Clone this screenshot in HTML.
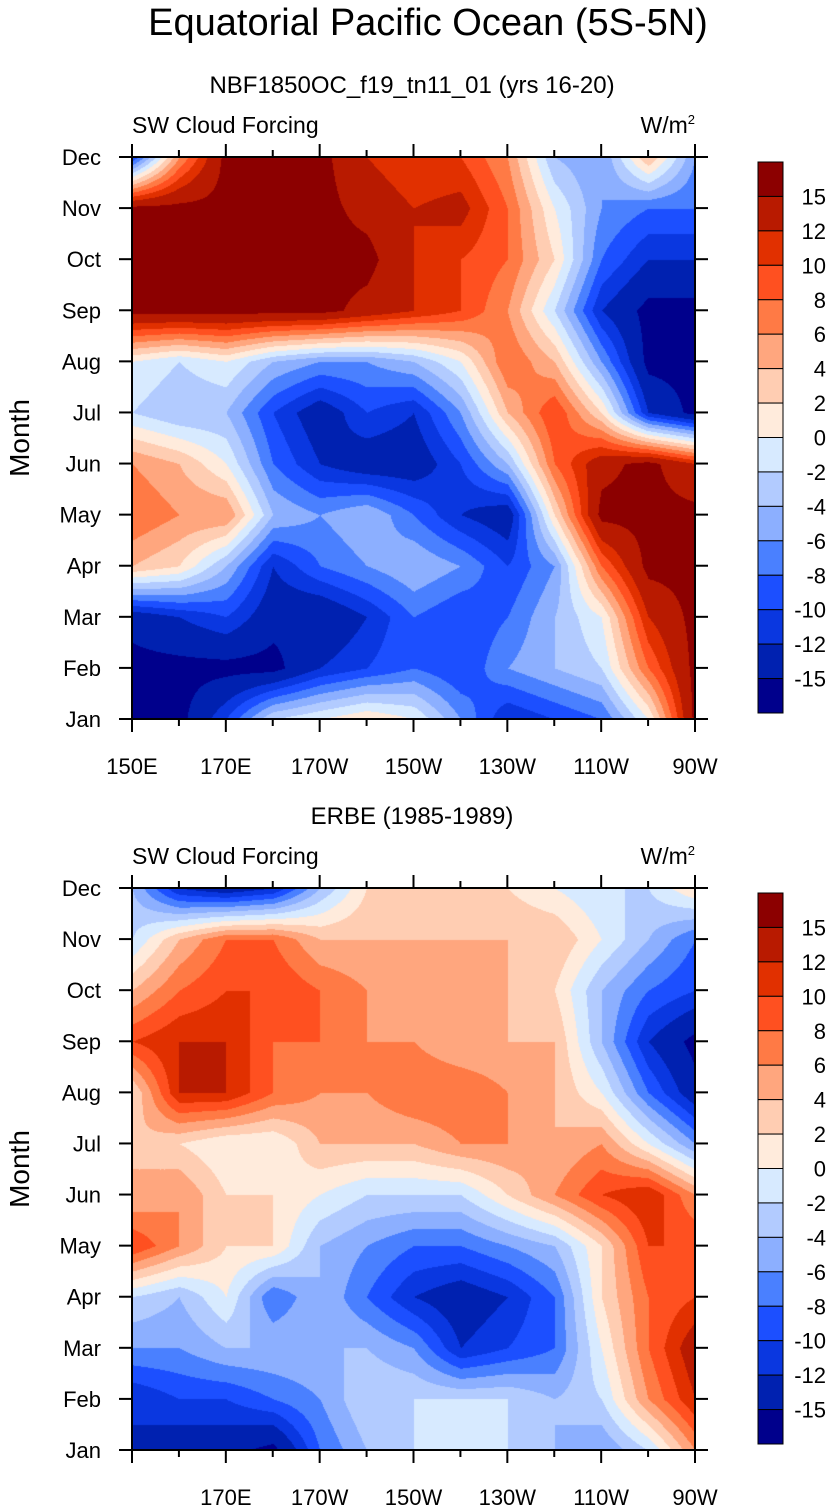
<!DOCTYPE html>
<html><head><meta charset="utf-8"><style>
body{margin:0;background:#fff;width:834px;height:1509px;position:relative;overflow:hidden;font-family:"Liberation Sans",sans-serif}
canvas{position:absolute}
svg{position:absolute;left:0;top:0}
</style></head><body>
<canvas id="c1" width="563" height="562" style="left:132px;top:157px"></canvas>
<canvas id="c2" width="563" height="562" style="left:132px;top:888px"></canvas>
<svg id="ov" width="834" height="1509"></svg>
<script>
const months=["Jan","Feb","Mar","Apr","May","Jun","Jul","Aug","Sep","Oct","Nov","Dec"];
const lons=[150,160,170,180,190,200,210,220,230,240,250,260,270];
const levels=[-15,-12,-10,-8,-6,-4,-2,0,2,4,6,8,10,12,15];
const levelLabels=["15","12","10","8","6","4","2","0","-2","-4","-6","-8","-10","-12","-15"];
const colors=["#00008c","#0021b0","#0a37e0","#1c4fff","#4a80ff","#8cafff","#b2cbff","#d7eaff","#ffebdc","#ffcdb2","#ffa67e","#ff7a45","#ff5020","#e13000","#b81a00","#8c0000"];
const xTicks1=["150E","170E","170W","150W","130W","110W","90W"];
const xTicks2=["","170E","170W","150W","130W","110W","90W"];
const model=[
[-16,-16,-10,-2,0,2,0,-6,-12,-10,-8,0,16],
[-16,-16,-16,-16,-12,-10,-8,-10,-6,-4,-2,8,16],
[-14,-12,-10,-14,-15,-12,-8,-10,-8,-4,0,12,16],
[4,2,-4,-12,-8,-6,-4,-6,-10,-6,8,16,16],
[8,6,6,-4,-6,-4,-8,-12,-14,2,16,16,16],
[6,4,0,-8,-12,-14,-14,-10,-4,8,14,16,12],
[-2,-4,-4,-10,-14,-10,-12,-6,4,10,2,-12,-16],
[0,-2,0,-4,-6,-6,-4,0,8,4,-6,-16,-16],
[16,16,16,16,16,14,12,10,6,-2,-12,-16,-16],
[16,16,16,16,16,16,12,10,8,2,-8,-12,-12],
[16,16,16,16,16,14,12,13,8,0,-6,-8,-8],
[-10,6,16,16,16,12,10,10,6,-4,-6,4,-6]];
const erbe=[
[-12,-14,-14,-16,-8,-4,-2,-2,-2,-4,-6,-2,6],
[-12,-10,-10,-8,-6,-2,-2,-2,-2,-4,-2,6,12],
[-6,-6,-4,-4,-4,-4,-6,-12,-10,-8,0,8,14],
[-2,-4,0,-8,-4,-8,-12,-14,-12,-8,2,8,10],
[10,6,2,2,-4,-6,-8,-8,-6,-4,2,10,10],
[4,6,2,2,0,-2,-2,-2,2,6,10,12,6],
[4,2,0,0,4,4,4,6,6,4,6,0,-6],
[2,12,12,8,6,6,8,8,6,4,0,-8,-14],
[10,12,12,8,8,6,6,4,4,4,-4,-12,-16],
[4,8,10,10,8,6,4,4,4,2,-4,-8,-10],
[-2,4,8,8,4,4,4,4,4,4,0,-4,-8],
[-4,-12,-14,-12,-4,2,2,2,2,0,-2,-2,2]];

const W=563,H=562;
function hex(c){return [parseInt(c.slice(1,3),16),parseInt(c.slice(3,5),16),parseInt(c.slice(5,7),16)];}
const rgb=colors.map(hex);
function draw(id,grid){
  const ctx=document.getElementById(id).getContext('2d');
  const img=ctx.createImageData(W,H);
  const nl=lons.length;
  for(let py=0;py<H;py++){
    const fm=(H-py)/H*11;let i=Math.min(10,Math.floor(fm));const ty=fm-i;
    for(let px=0;px<W;px++){
      const fl=px/W*(lons[nl-1]-lons[0])/10;let j=Math.min(nl-2,Math.floor(fl));const tx=fl-j;
      const v=(grid[i][j]*(1-tx)+grid[i][j+1]*tx)*(1-ty)+(grid[i+1][j]*(1-tx)+grid[i+1][j+1]*tx)*ty;
      let k=0;while(k<levels.length&&v>=levels[k])k++;
      const c=rgb[k];const o=(py*W+px)*4;
      img.data[o]=c[0];img.data[o+1]=c[1];img.data[o+2]=c[2];img.data[o+3]=255;
    }
  }
  ctx.putImageData(img,0,0);
}
draw('c1',model);draw('c2',erbe);

const NS="http://www.w3.org/2000/svg";
const ov=document.getElementById('ov');
function el(t,a,txt){const e=document.createElementNS(NS,t);for(const k in a)e.setAttribute(k,a[k]);if(txt!==undefined)e.textContent=txt;ov.appendChild(e);return e;}
function txt(x,y,s,size,anchor,name){const e=el('text',{x:x,y:y,'font-size':size,'text-anchor':anchor||'start',fill:'#000','font-family':'"Liberation Sans",sans-serif'},s);

return e;}

txt(428,35,"Equatorial Pacific Ocean (5S-5N)",38,'middle','main-title');
txt(412,93,"NBF1850OC_f19_tn11_01 (yrs 16-20)",24,'middle','model-title');
txt(412,824,"ERBE (1985-1989)",24,'middle','obs-title');

function panel(top,xt,p){
  const L=132,R=695,T=top,B=top+562;
  txt(L,133+top-157,"SW Cloud Forcing",23,'start',p+'-variable-label');
  const u=txt(R,133+top-157,"W/m",23,'end',p+'-units-label');
  const sup=document.createElementNS(NS,'tspan');sup.setAttribute('font-size','13');sup.setAttribute('dy','-9');sup.textContent='2';u.appendChild(sup);
  const fr=el('rect',{x:L,y:T,width:R-L,height:B-T,fill:'none',stroke:'#000','stroke-width':2});
  
  
  months.forEach((m,i)=>{const y=B-i/11*(B-T);
    el('line',{x1:L-13,x2:L,y1:y,y2:y,stroke:'#000','stroke-width':2});
    el('line',{x1:R,x2:R+13,y1:y,y2:y,stroke:'#000','stroke-width':2});
    txt(101,y+8,m,22,'end',p+'-month-label');});
  for(let k=0;k<=12;k++){const x=L+k/12*(R-L);const len=(k%2==0)?13:7;
    el('line',{x1:x,x2:x,y1:B,y2:B+len,stroke:'#000','stroke-width':2});
    el('line',{x1:x,x2:x,y1:T-len,y2:T,stroke:'#000','stroke-width':2});}
  xt.forEach((s,k)=>{if(s)txt(L+k*2/12*(R-L),B+55,s,22,'middle',p+'-lon-label');});
  const yt=el('text',{x:0,y:0,'font-size':28,'text-anchor':'middle',transform:`translate(29,${(T+B)/2}) rotate(-90)`,'font-family':'"Liberation Sans",sans-serif'},"Month");
  
  const ct=top+5,bh=551/16;
  colors.slice().reverse().forEach((c,i)=>{const r=el('rect',{x:758,y:ct+i*bh,width:25,height:bh,fill:c,stroke:'#000','stroke-width':1});
    });
  levelLabels.forEach((s,i)=>{txt(826,ct+(i+1)*bh+8,s,22,'end',p+'-colorbar-label');});
}
panel(157,xTicks1,'top');
panel(888,xTicks2,'bottom');
</script>
</body></html>
